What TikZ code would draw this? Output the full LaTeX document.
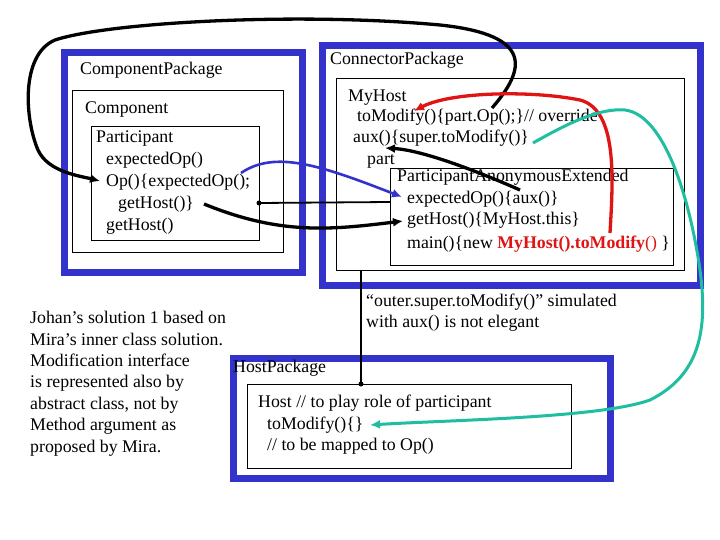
\documentclass[tikz,border=0pt]{standalone}
\usepackage{fontspec}
\setmainfont{Liberation Serif}
\usetikzlibrary{arrows.meta}
\definecolor{pkgblue}{RGB}{51,51,204}
\definecolor{tealc}{RGB}{32,190,160}
\definecolor{redc}{RGB}{225,20,20}
\begin{document}
\begin{tikzpicture}[x=1pt,y=-1pt,
  pkgbox/.style={draw=pkgblue,line width=7pt,inner sep=0pt,anchor=north west},
  clsbox/.style={draw=black,line width=1.3pt,inner sep=0pt,anchor=north west},
  txt/.style={anchor=base west,inner sep=0pt,font=\fontsize{17.8}{21.5}\selectfont},
  thick arrow/.style={line width=3.3pt,-{Latex[length=10pt,width=9pt]}},
  thin link/.style={line width=1.8pt},
  dotc/.style={circle,fill=black,inner sep=0pt,minimum size=5pt}
]
\useasboundingbox[fill=white] (0,0) rectangle (720,540);

% packages and classes
\node[pkgbox,minimum width=238pt,minimum height=219pt] (cpkg) at (60.5,49.5) {};
\node[clsbox,minimum width=211pt,minimum height=162pt] (comp) at (72,90) {};
\node[clsbox,minimum width=168pt,minimum height=114pt] (part) at (90.5,126) {};

\node[pkgbox,minimum width=378.5pt,minimum height=240pt] (conpkg) at (318.5,42) {};
\node[clsbox,minimum width=348pt,minimum height=192pt] (myhost) at (336,78) {};
\node[clsbox,minimum width=283pt,minimum height=97pt] (pae) at (390,168) {};

\node[pkgbox,minimum width=377.5pt,minimum height=119.5pt] (hpkg) at (229.5,355) {};
\node[clsbox,minimum width=324pt,minimum height=84pt] (host) at (247,384) {};

% texts
\node[txt] (tcpkg) at (80,75) {ComponentPackage};
\node[txt] (tcomp) at (85,114) {Component};
\node[txt] (tp1) at (96,143) {Participant};
\node[txt] (tp2) at (106,165) {expectedOp()};
\node[txt] (tp3) at (106,187) {Op()\{expectedOp();};
\node[txt] (tp4) at (118,208) {getHost()\}};
\node[txt] (tp5) at (106,230) {getHost()};

\node[txt] (tconpkg) at (330,65) {ConnectorPackage};
\node[txt] (tm1) at (348,102) {MyHost};
\node[txt] (tm2) at (357,122) {toModify()\{part.Op();\}// override};
\node[txt] (tm3) at (353,143) {aux()\{super.toModify()\}};
\node[txt] (tm4) at (367,165) {part};
\node[txt] (ta1) at (397,182) {ParticipantAnonymousExtended};
\node[txt] (ta2) at (407,204) {expectedOp()\{aux()\}};
\node[txt] (ta3) at (407,225) {getHost()\{MyHost.this\}};
\node[txt] (ta4) at (407,248) {main()\{new {\color{redc}\bfseries MyHost().toModify}{\color{redc}()} \}};

\node[txt] (tn1) at (366,306) {“outer.super.toModify()” simulated};
\node[txt] (tn2) at (366,327) {with aux() is not elegant};

\node[txt] (tl1) at (30,323) {Johan’s solution 1 based on};
\node[txt] (tl2) at (30,345) {Mira’s inner class solution.};
\node[txt] (tl3) at (30,366) {Modification interface};
\node[txt] (tl4) at (30,387) {is represented also by};
\node[txt] (tl5) at (30,409) {abstract class, not by};
\node[txt] (tl6) at (30,430) {Method argument as};
\node[txt] (tl7) at (30,452) {proposed by Mira.};

\node[txt] (thpkg) at (233,372) {HostPackage};
\node[txt] (th1) at (258,407) {Host // to play role of participant};
\node[txt] (th2) at (267,429) {toModify()\{\}};
\node[txt] (th3) at (267,450) {// to be mapped to Op()};

% connector end points
\coordinate (a1) at (492,108);
\coordinate (a1e) at (100,181);
\coordinate (b1) at (241,173);
\coordinate (b1e) at (402,197);
\coordinate (l1) at (259,203);
\coordinate (l1e) at (390,202);
\coordinate (g1) at (204,204);
\coordinate (g1e) at (403,221);
\coordinate (x1) at (520,190);
\coordinate (x1e) at (385,148);
\coordinate (r1) at (610,233);
\coordinate (r1e) at (414,111);
\coordinate (t1) at (533,143);
\coordinate (t1e) at (370,425);
\coordinate (v1) at (361,270);
\coordinate (v1e) at (361,384);

% connectors
\draw[thick arrow] (a1) .. controls (525,70) and (535,35) .. (440,25)
   .. controls (300,12) and (110,22) .. (55,40)
   .. controls (20,55) and (25,120) .. (38,150)
   .. controls (48,172) and (80,176) .. (a1e);
\draw[line width=2.6pt,draw=pkgblue,-{Latex[length=10pt,width=9pt]}]
   (b1) .. controls (275,150) and (320,165) .. (b1e);
\draw[thin link] (l1) -- (l1e);
\node[dotc] (d1) at (l1) {};
\draw[thick arrow] (g1) .. controls (280,235) and (330,230) .. (g1e);
\draw[thick arrow] (x1) .. controls (470,168) and (420,150) .. (x1e);
\draw[thick arrow,draw=redc] (r1) .. controls (613,180) and (618,110) .. (580,100)
   .. controls (530,90) and (450,92) .. (r1e);
\draw[line width=3pt,draw=tealc,-{Latex[length=10pt,width=9pt]}]
   (t1) .. controls (570,122) and (600,108) .. (625,110)
   .. controls (665,115) and (690,200) .. (700,270)
   .. controls (708,330) and (700,375) .. (650,400)
   .. controls (600,418) and (450,420) .. (t1e);
\draw[thin link] (v1) -- (v1e);
\node[dotc] (d2) at (v1e) {};
\end{tikzpicture}
\end{document}
